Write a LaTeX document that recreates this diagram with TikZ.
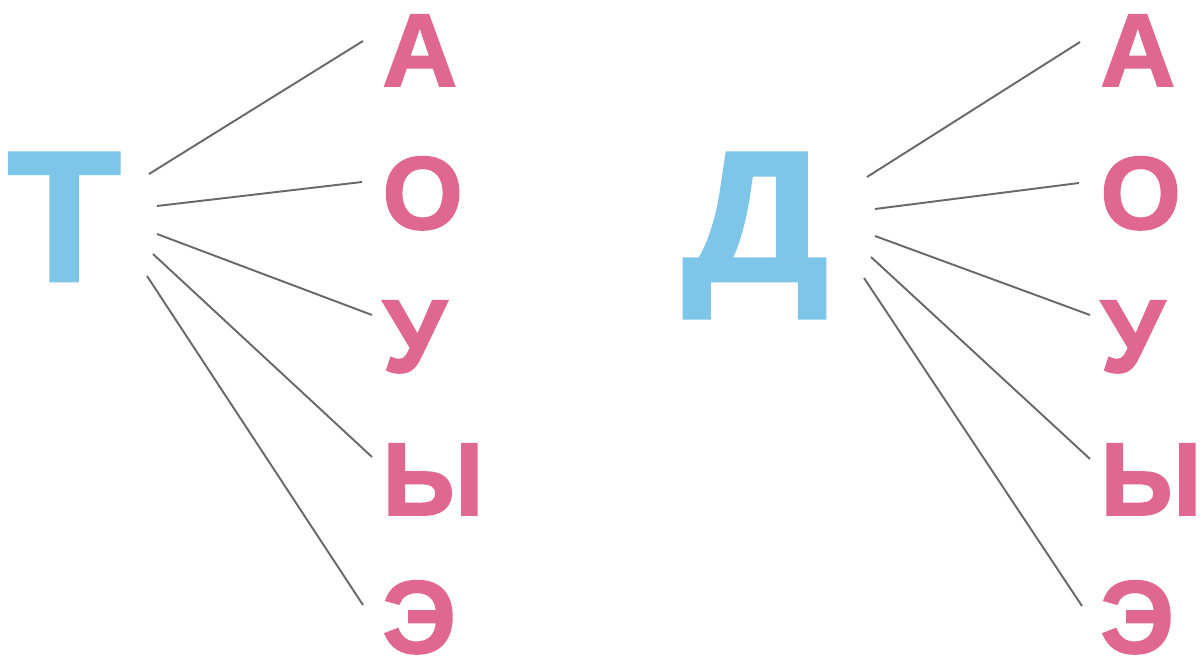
\documentclass[tikz,border=0pt]{standalone}
\usepackage{fontspec}
\setmainfont{Liberation Sans}[BoldFeatures={FakeBold=1.6}]
\usepackage{xcolor}
\definecolor{lettblue}{RGB}{126,197,234}
\definecolor{vowpink}{RGB}{224,104,144}
\definecolor{linkgray}{RGB}{105,105,105}

\begin{document}
\begin{tikzpicture}[x=0.02cm,y=-0.02cm,
  cons/.style={inner sep=0pt,anchor=base west,text=lettblue,
               font=\fontsize{106}{106}\selectfont\bfseries},
  vow/.style={inner sep=0pt,anchor=base west,text=vowpink,
              font=\fontsize{59}{59}\selectfont\bfseries},
  link/.style={draw=linkgray,line width=1.1pt},
]
\useasboundingbox (0,0) rectangle (1200,661);

% Left fan: T
\node[cons] (t) at (7,281) {Т};
\node[vow] (ta) at (382,86)  {А};
\node[vow] (to) at (382,229) {О};
\node[vow] (tu) at (382,372) {У};
\node[vow] (ty) at (382,515) {Ы};
\node[vow] (te) at (382,653) {Э};

\coordinate (t1) at (149,174); \coordinate (ta1) at (363,41);
\coordinate (t2) at (157,206); \coordinate (to1) at (362,182);
\coordinate (t3) at (157,234); \coordinate (tu1) at (372,315);
\coordinate (t4) at (153,254); \coordinate (ty1) at (372,457);
\coordinate (t5) at (147,276); \coordinate (te1) at (363,605);
\draw[link] (t1) -- (ta1);
\draw[link] (t2) -- (to1);
\draw[link] (t3) -- (tu1);
\draw[link] (t4) -- (ty1);
\draw[link] (t5) -- (te1);

% Right fan: D
\node[cons,xscale=1.1,transform shape] (d) at (682,281) {Д};
\node[vow] (da) at (1100,86)  {А};
\node[vow] (do) at (1100,229) {О};
\node[vow] (du) at (1100,372) {У};
\node[vow] (dy) at (1100,515) {Ы};
\node[vow] (de) at (1100,653) {Э};

\coordinate (d1) at (867,177); \coordinate (da1) at (1080,42);
\coordinate (d2) at (875,209); \coordinate (do1) at (1079,183);
\coordinate (d3) at (875,236); \coordinate (du1) at (1090,315);
\coordinate (d4) at (871,257); \coordinate (dy1) at (1090,459);
\coordinate (d5) at (864,278); \coordinate (de1) at (1082,606);
\draw[link] (d1) -- (da1);
\draw[link] (d2) -- (do1);
\draw[link] (d3) -- (du1);
\draw[link] (d4) -- (dy1);
\draw[link] (d5) -- (de1);
\end{tikzpicture}
\end{document}
